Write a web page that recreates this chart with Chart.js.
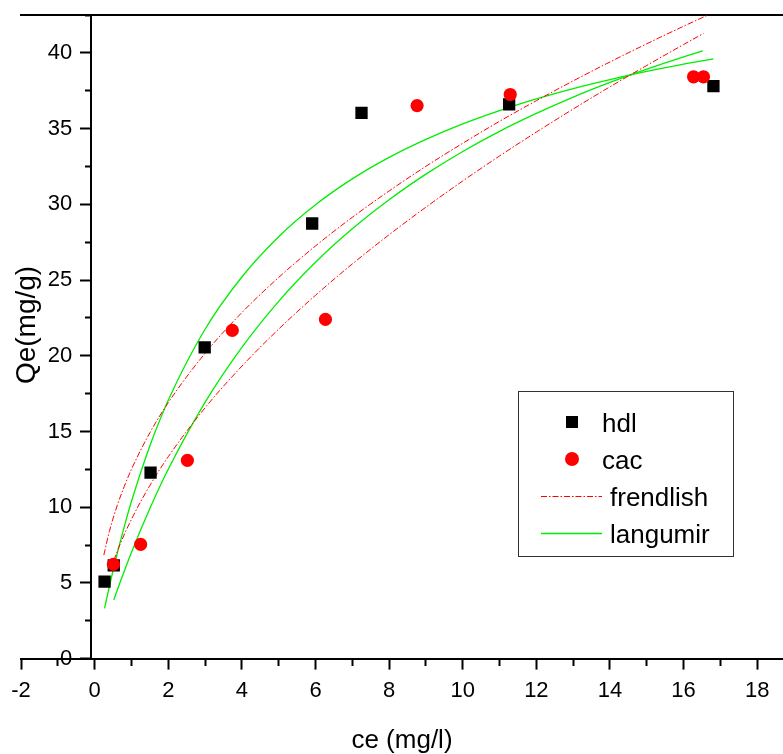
<!DOCTYPE html>
<html>
<head>
<meta charset="utf-8">
<script src="https://cdn.jsdelivr.net/npm/chart.js@4/dist/chart.umd.min.js"></script>
<style>
html,body{margin:0;padding:0;background:#fff;}
canvas{display:block;}
</style>
</head>
<body>
<canvas id="c" width="783" height="754"></canvas>
<script>
// ---- data ----
const hdlCe = [0.27, 0.52, 1.52, 2.99, 5.91, 7.25, 11.26, 16.81];
const hdlQe = [5.08, 6.15, 12.28, 20.55, 28.73, 36.04, 36.6, 37.8];

const cacCe = [0.51, 1.25, 2.52, 3.74, 6.27, 8.76, 11.29, 16.27, 16.54];
const cacQe = [6.22, 7.54, 13.09, 21.67, 22.4, 36.52, 37.25, 38.42, 38.42];

// fitted curves
const frendHdlCe = [0.25, 0.4, 0.6, 0.8, 1, 1.5, 2, 3, 4, 5, 6, 7, 8, 9, 10, 11, 12, 13, 14, 15, 16, 16.81];
const frendHdlQe = [6.84, 8.39, 10.01, 11.34, 12.5, 14.91, 16.9, 20.16, 22.85, 25.17, 27.25, 29.14, 30.88, 32.51, 34.03, 35.48, 36.84, 38.15, 39.4, 40.6, 41.76, 42.66];

const frendCacCe = [0.52, 0.7, 1, 1.5, 2, 3, 4, 5, 6, 7, 8, 9, 10, 11, 12, 13, 14, 15, 16, 16.54];
const frendCacQe = [6.48, 7.6, 9.2, 11.43, 13.33, 16.56, 19.31, 21.76, 23.99, 26.06, 27.99, 29.81, 31.54, 33.19, 34.77, 36.29, 37.76, 39.17, 40.55, 41.28];

const langHdlCe = [0.27, 0.4, 0.6, 0.8, 1, 1.5, 2, 3, 4, 5, 6, 7, 8, 9, 10, 11, 12, 13, 14, 15, 16, 16.81];
const langHdlQe = [3.32, 4.76, 6.81, 8.67, 10.37, 14.04, 17.06, 21.75, 25.2, 27.86, 29.97, 31.68, 33.1, 34.29, 35.31, 36.19, 36.96, 37.64, 38.23, 38.77, 39.25, 39.6];

const langCacCe = [0.52, 0.7, 1, 1.5, 2, 3, 4, 5, 6, 7, 8, 9, 10, 11, 12, 13, 14, 15, 16, 16.52];
const langCacQe = [3.87, 5.09, 7.01, 9.91, 12.5, 16.92, 20.55, 23.59, 26.17, 28.38, 30.3, 31.99, 33.49, 34.82, 36.0, 37.08, 38.05, 38.93, 39.74, 40.13];

const legendLabels = ['hdl', 'cac', 'frendlish', 'langumir'];
const xTitle = 'ce (mg/l)';
const yTitle = 'Qe(mg/g)';
const xMajorStep = 2, xMinorStep = 1;
const yMajorStep = 5, yMinorStep = 2.5;

// ---- chart ----
const FONT = "'Liberation Sans', Arial, sans-serif";
const RED = '#ff0000';
const GREEN = '#00ee00';
const DASHDOT = [6, 2, 1.5, 2];
const Y_LABEL_GAP = '\u0020\u0020\u0020'; // keeps y labels clear of the axis ticks

function pts(xs, ys) { return xs.map((x, i) => ({x: x, y: ys[i]})); }
function isMajor(v, step) { return Math.abs(v / step - Math.round(v / step)) < 1e-6; }

const yTitlePlugin = {
  id: 'yTitle',
  afterDraw(chart) {
    const ctx = chart.ctx;
    ctx.save();
    ctx.translate(27, 325);
    ctx.rotate(-Math.PI / 2);
    ctx.font = '28px ' + FONT;
    ctx.fillStyle = '#000';
    ctx.textAlign = 'center';
    ctx.textBaseline = 'middle';
    ctx.fillText(yTitle, 0, 0);
    ctx.restore();
  }
};

const boxLegendPlugin = {
  id: 'boxLegend',
  afterDraw(chart) {
    const ctx = chart.ctx;
    const box = {l: 518, t: 391, r: 733, b: 556};
    ctx.save();
    ctx.fillStyle = '#fff';
    ctx.fillRect(box.l, box.t, box.r - box.l, box.b - box.t);
    ctx.strokeStyle = '#333';
    ctx.lineWidth = 1;
    ctx.strokeRect(box.l + 0.5, box.t + 0.5, box.r - box.l, box.b - box.t);
    const rows = [422, 459, 496, 533];
    ctx.font = '26px ' + FONT;
    ctx.textBaseline = 'alphabetic';
    ctx.textAlign = 'left';
    // hdl
    ctx.fillStyle = '#000';
    ctx.fillRect(572 - 6, rows[0] - 6, 12, 12);
    ctx.fillText(legendLabels[0], 602, rows[0] + 9.5);
    // cac
    ctx.fillStyle = RED;
    ctx.beginPath(); ctx.arc(572, rows[1], 7, 0, Math.PI * 2); ctx.fill();
    ctx.fillStyle = '#000';
    ctx.fillText(legendLabels[1], 602, rows[1] + 9.5);
    // frendlish
    ctx.strokeStyle = RED; ctx.lineWidth = 1; ctx.setLineDash(DASHDOT);
    ctx.beginPath(); ctx.moveTo(541, rows[2] + 0.5); ctx.lineTo(602, rows[2] + 0.5); ctx.stroke();
    ctx.setLineDash([]);
    ctx.fillText(legendLabels[2], 610, rows[2] + 9.5);
    // langumir
    ctx.strokeStyle = GREEN; ctx.lineWidth = 1.3;
    ctx.beginPath(); ctx.moveTo(541, rows[3] + 0.5); ctx.lineTo(602, rows[3] + 0.5); ctx.stroke();
    ctx.fillText(legendLabels[3], 610, rows[3] + 9.5);
    ctx.restore();
  }
};

const lineDefaults = {showLine: true, pointRadius: 0, pointHoverRadius: 0, fill: false, cubicInterpolationMode: 'monotone'};

new Chart(document.getElementById('c'), {
  type: 'scatter',
  data: {
    datasets: [
      {label: legendLabels[1], data: pts(cacCe, cacQe), order: 0, showLine: false,
       pointStyle: 'circle', pointRadius: 6.6, backgroundColor: RED, borderColor: RED, borderWidth: 0},
      {label: legendLabels[0], data: pts(hdlCe, hdlQe), order: 1, showLine: false,
       pointStyle: 'rect', pointRadius: 8.7, backgroundColor: '#000', borderColor: '#000', borderWidth: 0},
      Object.assign({label: legendLabels[2], data: pts(frendHdlCe, frendHdlQe), order: 2,
       borderColor: RED, borderWidth: 1, borderDash: DASHDOT}, lineDefaults),
      Object.assign({label: legendLabels[2], data: pts(frendCacCe, frendCacQe), order: 3,
       borderColor: RED, borderWidth: 1, borderDash: DASHDOT}, lineDefaults),
      Object.assign({label: legendLabels[3], data: pts(langHdlCe, langHdlQe), order: 4,
       borderColor: GREEN, borderWidth: 1.3}, lineDefaults),
      Object.assign({label: legendLabels[3], data: pts(langCacCe, langCacQe), order: 5,
       borderColor: GREEN, borderWidth: 1.3}, lineDefaults)
    ]
  },
  options: {
    responsive: false,
    animation: false,
    devicePixelRatio: 1,
    layout: {autoPadding: false, padding: {left: 21, top: 15, right: 0, bottom: 0}},
    plugins: {legend: {display: false}, tooltip: {enabled: false}},
    scales: {
      x: {
        type: 'linear', position: 'bottom', min: -2, max: 18.7,
        border: {display: true, color: '#000', width: 2},
        grid: {
          drawOnChartArea: false, drawTicks: true, tickLength: 11, tickColor: '#000', tickWidth: 2,
          tickBorderDash: (c) => (c.tick && isMajor(c.tick.value, xMajorStep)) ? [] : [6, 100]
        },
        ticks: {
          stepSize: xMinorStep, includeBounds: false, autoSkip: false, maxRotation: 0, minRotation: 0,
          padding: 8, color: '#000', font: {family: FONT, size: 22},
          callback: (v) => isMajor(v, xMajorStep) ? String(v) : ''
        },
        title: {display: true, text: xTitle, color: '#000',
          font: {family: FONT, size: 26, lineHeight: 1}, padding: {top: 16, bottom: 0}}
      },
      xTop: {
        type: 'linear', position: 'top', min: -2, max: 18.7, display: true,
        border: {display: true, color: '#000', width: 2},
        grid: {display: true, drawOnChartArea: false, drawTicks: false},
        ticks: {display: false}
      },
      y: {
        type: 'linear', position: {x: -0.11}, min: 0, max: 42.5,
        border: {display: true, color: '#000', width: 2},
        grid: {
          drawOnChartArea: false, drawTicks: true, tickLength: 10, tickColor: '#000', tickWidth: 2,
          tickBorderDash: (c) => (c.tick && isMajor(c.tick.value, yMajorStep)) ? [] : [5, 100]
        },
        ticks: {
          stepSize: yMinorStep, includeBounds: false, autoSkip: false,
          padding: 0, color: '#000', font: {family: FONT, size: 22},
          callback: (v) => isMajor(v, yMajorStep) ? String(v) + Y_LABEL_GAP : ''
        },
        title: {display: false, text: yTitle}
      }
    }
  },
  plugins: [yTitlePlugin, boxLegendPlugin]
});
</script>
</body>
</html>
